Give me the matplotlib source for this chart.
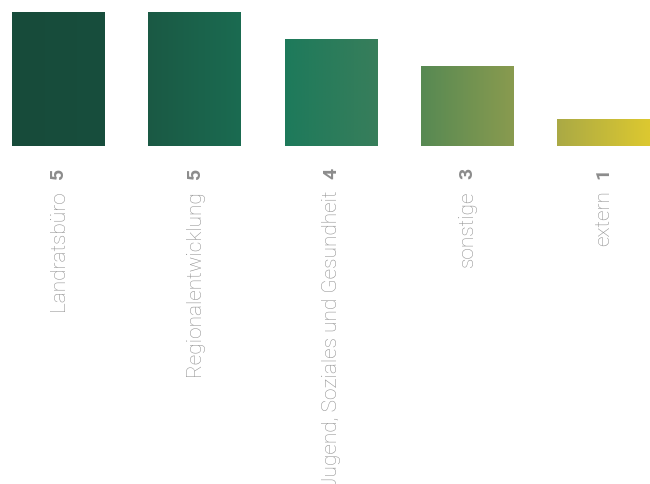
import numpy as np
import matplotlib
matplotlib.use("Agg")
import matplotlib.pyplot as plt
from matplotlib.colors import LinearSegmentedColormap

categories = ["Landratsbüro", "Regionalentwicklung", "Jugend, Soziales und Gesundheit", "sonstige", "extern"]
values = [5, 5, 4, 3, 1]

plt.rcParams['font.family'] = ['Roboto', 'DejaVu Sans']

# horizontal gradient running across the whole chart
cmap = LinearSegmentedColormap.from_list("grad", [
    (0.00, "#174b3a"), (0.15, "#184e3d"), (0.21, "#1a5944"), (0.36, "#1b6b51"),
    (0.43, "#1e7a5b"), (0.57, "#377e5b"), (0.64, "#568953"), (0.79, "#8a9b4f"),
    (0.85, "#a8a846"), (1.00, "#dcc830")])

fig = plt.figure(figsize=(6.5, 4.85), dpi=100)
ax = fig.add_axes([12 / 650, 1 - 147 / 485, 638 / 650, 134 / 485])

width = 0.68
x = np.arange(len(categories))
xmin, xmax = -width / 2, x[-1] + width / 2

bars = ax.bar(x, values, width=width, color='none', edgecolor='none')
for bar in bars:
    x0 = bar.get_x()
    x1 = x0 + bar.get_width()
    h = bar.get_height()
    t = np.linspace((x0 - xmin) / (xmax - xmin), (x1 - xmin) / (xmax - xmin), 200)
    img = ax.imshow(t[np.newaxis, :], cmap=cmap, vmin=0, vmax=1, aspect='auto',
                    extent=[x0, x1, 0, h], interpolation='bicubic')
    img.set_clip_path(bar)

ax.set_xlim(xmin, xmax)
ax.set_ylim(0, 5)
ax.axis('off')

for xi, cat, v in zip(x, categories, values):
    ax.annotate(str(v), xy=(xi, 0), xytext=(0, -15), textcoords='offset points',
                rotation=90, ha='center', va='top', fontsize=14, fontweight='bold',
                color='#8c8c8c', annotation_clip=False)
    ax.annotate(cat, xy=(xi, 0), xytext=(0, -31), textcoords='offset points',
                rotation=90, ha='center', va='top', fontsize=15, fontweight='light',
                color='#929292', annotation_clip=False)

fig.savefig("out.png", dpi=100)
